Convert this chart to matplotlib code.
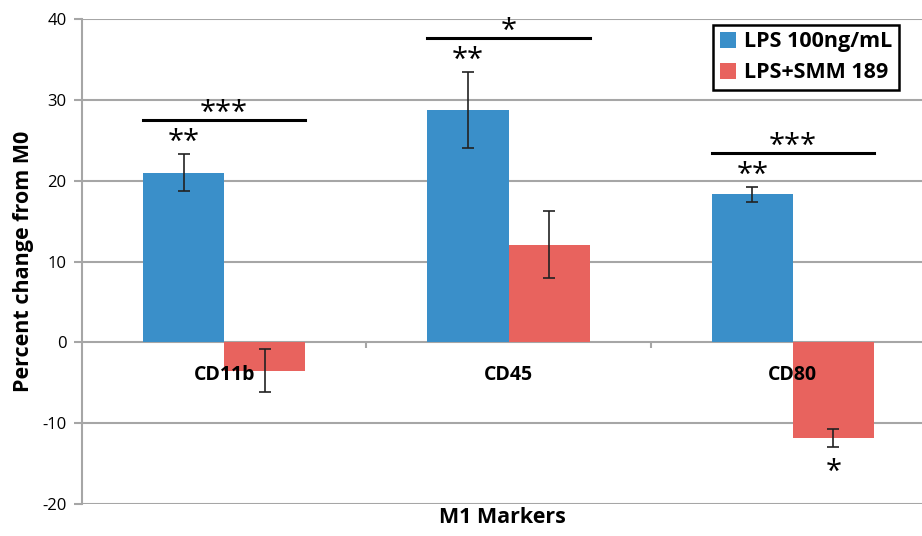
import matplotlib
matplotlib.use("Agg")
import matplotlib.pyplot as plt
import numpy as np

# data
markers = ["CD11b", "CD45", "CD80"]
lps = [21.0, 28.8, 18.3]
lps_err = [2.3, 4.7, 0.9]
smm = [-3.5, 12.1, -11.8]
smm_err = [2.7, 4.2, 1.1]
series_names = ["LPS 100ng/mL", "LPS+SMM 189"]
sig_pair = ["***", "*", "***"]
sig_lps = ["**", "**", "**"]
sig_smm = ["", "", "*"]

blue = "#3A8FC9"
red = "#E8635E"
grid_c = "#A6A6A6"

plt.rcParams["font.family"] = ["Open Sans", "DejaVu Sans"]
plt.rcParams["axes.unicode_minus"] = False

fig = plt.figure(figsize=(9.22, 5.36), dpi=100)
ax = fig.add_axes([82 / 922, 32 / 536, 1 - 82 / 922, 485 / 536])

x = np.arange(len(markers))
w = 0.285
ax.bar(x - w / 2, lps, w, color=blue, label=series_names[0], zorder=3)
ax.bar(x + w / 2, smm, w, color=red, label=series_names[1], zorder=3)
ax.errorbar(x - w / 2, lps, yerr=lps_err, fmt="none", ecolor="#222222",
            elinewidth=1.2, capsize=4, capthick=1.2, zorder=4)
ax.errorbar(x + w / 2, smm, yerr=smm_err, fmt="none", ecolor="#222222",
            elinewidth=1.2, capsize=4, capthick=1.2, zorder=4)

ax.set_ylim(-20, 40)
ax.set_xlim(-0.5, 2.5 - 13 / 284)
ax.set_yticks(range(-20, 41, 10))
ax.yaxis.grid(True, color=grid_c, linewidth=1.5, zorder=0)
ax.set_axisbelow(True)
ax.set_xticks([])
for s in ["top", "right", "bottom"]:
    ax.spines[s].set_visible(False)
ax.spines["left"].set_color(grid_c)
ax.spines["left"].set_linewidth(1.5)
ax.tick_params(axis="y", colors=grid_c, length=6, width=1.5, labelsize=12,
               labelcolor="black", pad=5)

# category separators on the zero line
ax.vlines(x[:-1] + 0.5, -0.7, 0, color=grid_c, linewidth=1.5, zorder=2)

# category labels just under zero line
for xi, m in zip(x, markers):
    ax.text(xi, -4.0, m, ha="center", va="center", fontsize=14,
            fontweight="bold", zorder=5)

# significance marks
for i in range(len(markers)):
    top = lps[i] + lps_err[i]
    ax.text(x[i] - w / 2, top + 1.4, sig_lps[i], ha="center", va="center",
            fontsize=21, zorder=5)
    ly = top + 4.2
    ax.plot([x[i] - w, x[i] + w], [ly, ly], color="black", linewidth=2.2,
            zorder=5)
    ax.text(x[i], ly + 0.8, sig_pair[i], ha="center", va="center",
            fontsize=21, zorder=5)
    if sig_smm[i]:
        bot = smm[i] - smm_err[i]
        ax.text(x[i] + w / 2, bot - 3.2, sig_smm[i], ha="center",
                va="center", fontsize=21, zorder=5)

ax.set_ylabel("Percent change from M0", fontsize=15.5, fontweight="bold",
              labelpad=6)
ax.set_xlabel("M1 Markers", fontsize=15.5, fontweight="bold", labelpad=2)

leg = ax.legend(loc="upper right",
                bbox_to_anchor=((899 - 82) / 840, 1 - 6 / 485),
                borderaxespad=0,
                prop={"size": 15.5, "weight": "bold"}, fancybox=False,
                edgecolor="black", framealpha=1, handlelength=0.75,
                handleheight=0.75, handletextpad=0.4, borderpad=0.3,
                labelspacing=0.45)
leg.get_frame().set_linewidth(1.8)

fig.savefig("out.png", dpi=100)
